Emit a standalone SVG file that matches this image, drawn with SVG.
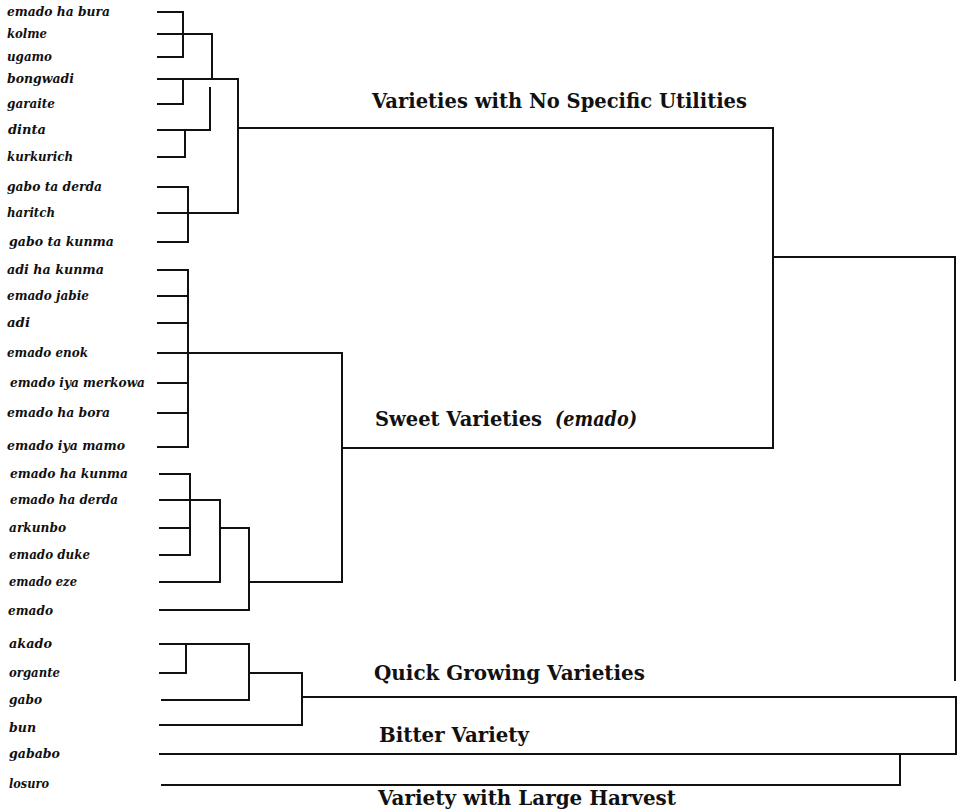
<svg xmlns="http://www.w3.org/2000/svg" width="958" height="812" viewBox="0 0 958 812">
<style>
.bg{fill:#ffffff}
.lbl{font-family:"DejaVu Serif","Liberation Serif",serif;font-style:italic;font-weight:bold;font-size:13.5px;fill:#111}
.hd{font-family:"DejaVu Serif","Liberation Serif",serif;font-weight:bold;font-size:19.5px;fill:#111}
.it{font-style:italic}
.ln{fill:none;stroke:#111;stroke-width:2;stroke-linecap:square;stroke-linejoin:miter}
</style>
<rect class="bg" x="0" y="0" width="958" height="812"/>
<g id="connectors">
<path class="ln" d="M158,12 H183 V57 H158"/>
<path class="ln" d="M158,34 H212 V79"/>
<path class="ln" d="M158,79 H238 V213 H158"/>
<path class="ln" d="M183,79 V104 H158"/>
<path class="ln" d="M158,130 H210 V88"/>
<path class="ln" d="M158,157 H185 V130"/>
<path class="ln" d="M158,187 H188 V242 H158"/>
<path class="ln" d="M238,128 H773 V448 H342"/>
<path class="ln" d="M773,257 H955 V680"/>
<path class="ln" d="M188,270 V447"/>
<path class="ln" d="M158,270 H188 M158,296 H188 M158,323 H188 M158,383 H188 M158,413 H188 M158,447 H188"/>
<path class="ln" d="M158,353 H342 V582"/>
<path class="ln" d="M160,474 H190 V555 H160 M160,528 H190"/>
<path class="ln" d="M160,500 H220 V582 H160"/>
<path class="ln" d="M220,528 H249 V610 H160"/>
<path class="ln" d="M249,582 H342"/>
<path class="ln" d="M160,644 H249 V700 H162"/>
<path class="ln" d="M186,644 V673 H160"/>
<path class="ln" d="M249,673 H302 V725 H160"/>
<path class="ln" d="M302,697 H956 V754 H160"/>
<path class="ln" d="M900,754 V785 H162"/>
</g>
<g id="leaf-emado-ha-bura"><text class="lbl" x="7" y="16" textLength="103" lengthAdjust="spacingAndGlyphs">emado ha bura</text></g>
<g id="leaf-kolme"><text class="lbl" x="7" y="38" textLength="40" lengthAdjust="spacingAndGlyphs">kolme</text></g>
<g id="leaf-ugamo"><text class="lbl" x="7" y="61" textLength="45" lengthAdjust="spacingAndGlyphs">ugamo</text></g>
<g id="leaf-bongwadi"><text class="lbl" x="7" y="83" textLength="67" lengthAdjust="spacingAndGlyphs">bongwadi</text></g>
<g id="leaf-garaite"><text class="lbl" x="7" y="108" textLength="48" lengthAdjust="spacingAndGlyphs">garaite</text></g>
<g id="leaf-dinta"><text class="lbl" x="8" y="134" textLength="38" lengthAdjust="spacingAndGlyphs">dinta</text></g>
<g id="leaf-kurkurich"><text class="lbl" x="7" y="161" textLength="66" lengthAdjust="spacingAndGlyphs">kurkurich</text></g>
<g id="leaf-gabo-ta-derda"><text class="lbl" x="7" y="191" textLength="95" lengthAdjust="spacingAndGlyphs">gabo ta derda</text></g>
<g id="leaf-haritch"><text class="lbl" x="7" y="217" textLength="48" lengthAdjust="spacingAndGlyphs">haritch</text></g>
<g id="leaf-gabo-ta-kunma"><text class="lbl" x="9" y="246" textLength="105" lengthAdjust="spacingAndGlyphs">gabo ta kunma</text></g>
<g id="leaf-adi-ha-kunma"><text class="lbl" x="7" y="274" textLength="97" lengthAdjust="spacingAndGlyphs">adi ha kunma</text></g>
<g id="leaf-emado-jabie"><text class="lbl" x="7" y="300" textLength="82" lengthAdjust="spacingAndGlyphs">emado jabie</text></g>
<g id="leaf-adi"><text class="lbl" x="7" y="327" textLength="23" lengthAdjust="spacingAndGlyphs">adi</text></g>
<g id="leaf-emado-enok"><text class="lbl" x="7" y="357" textLength="81" lengthAdjust="spacingAndGlyphs">emado enok</text></g>
<g id="leaf-emado-iya-merkowa"><text class="lbl" x="10" y="387" textLength="135" lengthAdjust="spacingAndGlyphs">emado iya merkowa</text></g>
<g id="leaf-emado-ha-bora"><text class="lbl" x="7" y="417" textLength="103" lengthAdjust="spacingAndGlyphs">emado ha bora</text></g>
<g id="leaf-emado-iya-mamo"><text class="lbl" x="7" y="450" textLength="118" lengthAdjust="spacingAndGlyphs">emado iya mamo</text></g>
<g id="leaf-emado-ha-kunma"><text class="lbl" x="10" y="478" textLength="118" lengthAdjust="spacingAndGlyphs">emado ha kunma</text></g>
<g id="leaf-emado-ha-derda"><text class="lbl" x="10" y="504" textLength="108" lengthAdjust="spacingAndGlyphs">emado ha derda</text></g>
<g id="leaf-arkunbo"><text class="lbl" x="9" y="532" textLength="57" lengthAdjust="spacingAndGlyphs">arkunbo</text></g>
<g id="leaf-emado-duke"><text class="lbl" x="9" y="559" textLength="81" lengthAdjust="spacingAndGlyphs">emado duke</text></g>
<g id="leaf-emado-eze"><text class="lbl" x="9" y="586" textLength="68" lengthAdjust="spacingAndGlyphs">emado eze</text></g>
<g id="leaf-emado"><text class="lbl" x="8" y="615" textLength="45" lengthAdjust="spacingAndGlyphs">emado</text></g>
<g id="leaf-akado"><text class="lbl" x="9" y="648" textLength="43" lengthAdjust="spacingAndGlyphs">akado</text></g>
<g id="leaf-organte"><text class="lbl" x="9" y="677" textLength="51" lengthAdjust="spacingAndGlyphs">organte</text></g>
<g id="leaf-gabo"><text class="lbl" x="9" y="704" textLength="33" lengthAdjust="spacingAndGlyphs">gabo</text></g>
<g id="leaf-bun"><text class="lbl" x="9" y="732" textLength="27" lengthAdjust="spacingAndGlyphs">bun</text></g>
<g id="leaf-gababo"><text class="lbl" x="9" y="758" textLength="51" lengthAdjust="spacingAndGlyphs">gababo</text></g>
<g id="leaf-losuro"><text class="lbl" x="9" y="788" textLength="40" lengthAdjust="spacingAndGlyphs">losuro</text></g>
<g id="cluster-no-specific"><text class="hd" x="372" y="108" textLength="375" lengthAdjust="spacingAndGlyphs">Varieties with No Specific Utilities</text></g>
<g id="cluster-sweet"><text class="hd" x="375" y="426" textLength="167" lengthAdjust="spacingAndGlyphs">Sweet Varieties</text><text class="hd it" x="555" y="426" textLength="82" lengthAdjust="spacingAndGlyphs">(emado)</text></g>
<g id="cluster-quick"><text class="hd" x="374" y="680" textLength="271" lengthAdjust="spacingAndGlyphs">Quick Growing Varieties</text></g>
<g id="cluster-bitter"><text class="hd" x="379" y="742" textLength="150" lengthAdjust="spacingAndGlyphs">Bitter Variety</text></g>
<g id="cluster-harvest"><text class="hd" x="378" y="805" textLength="298" lengthAdjust="spacingAndGlyphs">Variety with Large Harvest</text></g>
</svg>
